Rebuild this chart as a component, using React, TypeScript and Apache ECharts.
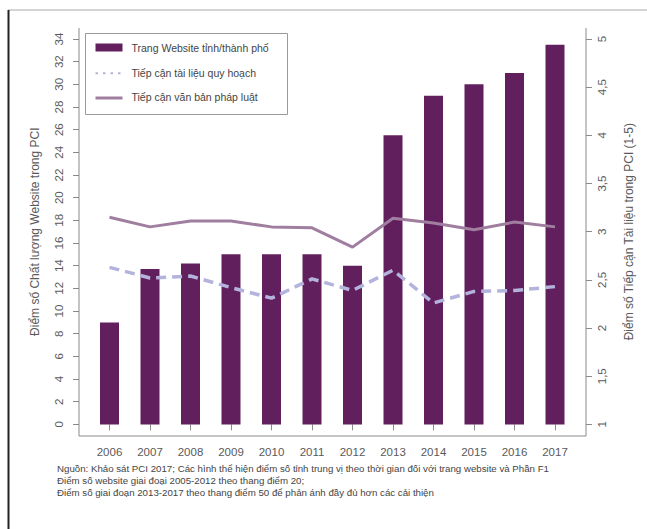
import React, { useEffect, useRef } from "react";
import * as echarts from "echarts";

const years = ["2006", "2007", "2008", "2009", "2010", "2011", "2012", "2013", "2014", "2015", "2016", "2017"];
const websiteScores = [9, 13.7, 14.2, 15, 15, 15, 14, 25.5, 29, 30, 31, 33.5];
const planningAccess = [2.63, 2.52, 2.54, 2.42, 2.31, 2.51, 2.39, 2.6, 2.26, 2.38, 2.39, 2.43];
const legalAccess = [3.15, 3.05, 3.11, 3.11, 3.05, 3.04, 2.84, 3.14, 3.09, 3.02, 3.1, 3.05];

const seriesNames = ["Trang Website tỉnh/thành phố", "Tiếp cận tài liệu quy hoạch", "Tiếp cận văn bản pháp luật"];
const leftAxisName = "Điểm số Chất lượng Website trong PCI";
const rightAxisName = "Điểm số Tiếp cận Tài liệu trong PCI (1-5)";
const footnotes = [
  "Nguồn: Khảo sát PCI 2017; Các hình thể hiện điểm số tỉnh trung vị theo thời gian đối với trang website và Phần F1",
  "Điểm số website giai đoại 2005-2012 theo thang điểm 20;",
  "Điểm số giai đoạn 2013-2017 theo thang điểm 50 để phản ánh đầy đủ hơn các cải thiện",
];

const FONT = "'Liberation Sans', Arial, Helvetica, sans-serif";
const BAR = "#621f5e";
const DASH = "#b3b3dd";
const SOLID = "#9f7e9f";
const AXIS = "#8a8a8a";
const LABEL = "#5a5a5a";

export default function App() {
  const ref = useRef<HTMLDivElement>(null);
  useEffect(() => {
    if (!ref.current) return;
    const chart = echarts.init(ref.current, null, { renderer: "svg" });
    const option: any = {
      animation: false,
      backgroundColor: "#ffffff",
      textStyle: { fontFamily: FONT },
      grid: { left: 89.25, right: 71.75, top: 39, bottom: 104.6, containLabel: false },
      xAxis: {
        type: "category",
        data: years,
        offset: 11.6,
        axisLine: { show: false },
        axisTick: { show: true, alignWithLabel: true, length: 6, lineStyle: { color: AXIS } },
        axisLabel: { color: LABEL, fontSize: 11.5, margin: 10, fontFamily: FONT },
        splitLine: { show: false },
      },
      yAxis: [
        {
          type: "value",
          position: "left",
          min: 0,
          max: 34,
          interval: 2,
          offset: 10.25,
          name: leftAxisName,
          nameLocation: "middle",
          nameGap: 38,
          nameRotate: 90,
          nameTextStyle: { color: LABEL, fontSize: 12, fontFamily: FONT },
          axisLine: { show: false },
          axisTick: { show: true, length: 6, lineStyle: { color: AXIS } },
          axisLabel: { color: LABEL, fontSize: 11.5, rotate: 90, margin: 14, fontFamily: FONT },
          splitLine: { show: false },
        },
        {
          type: "value",
          position: "right",
          min: 1,
          max: 5,
          interval: 0.5,
          offset: 10.75,
          name: rightAxisName,
          nameLocation: "middle",
          nameGap: 37,
          nameRotate: 90,
          nameTextStyle: { color: LABEL, fontSize: 12, fontFamily: FONT },
          axisLine: { show: false },
          axisTick: { show: true, length: 6, lineStyle: { color: AXIS } },
          axisLabel: {
            color: LABEL,
            fontSize: 11.5,
            rotate: 90,
            margin: 10,
            fontFamily: FONT,
            formatter: (v: number) => String(v).replace(".", ","),
          },
          splitLine: { show: false },
        },
      ],
      series: [
        {
          name: seriesNames[0],
          type: "bar",
          yAxisIndex: 0,
          data: websiteScores,
          barWidth: 19,
          itemStyle: { color: BAR },
        },
        {
          name: seriesNames[1],
          type: "line",
          yAxisIndex: 1,
          data: planningAccess,
          symbol: "none",
          lineStyle: { color: DASH, width: 3.5, type: [10, 6] },
        },
        {
          name: seriesNames[2],
          type: "line",
          yAxisIndex: 1,
          data: legalAccess,
          symbol: "none",
          lineStyle: { color: SOLID, width: 3 },
        },
      ],
      graphic: [
        { type: "line", shape: { x1: 8, y1: 10, x2: 647, y2: 10 }, style: { stroke: "#a8a8a8", lineWidth: 1 } },
        { type: "line", shape: { x1: 8.5, y1: 10, x2: 8.5, y2: 529 }, style: { stroke: "#222222", lineWidth: 2 } },
        {
          type: "polyline",
          shape: { points: [[79, 28], [79, 436], [586, 436], [586, 28]] },
          style: { stroke: AXIS, lineWidth: 1, fill: "none" },
          z: 5,
        },
        {
          type: "group",
          left: 85,
          top: 33,
          z: 10,
          children: [
            { type: "rect", shape: { x: 0, y: 0, width: 202, height: 81 }, style: { fill: "#ffffff", stroke: "#9a9a9a", lineWidth: 1 } },
            { type: "rect", shape: { x: 10, y: 10, width: 27, height: 8 }, style: { fill: BAR } },
            { type: "line", shape: { x1: 10, y1: 39.7, x2: 37, y2: 39.7 }, style: { stroke: DASH, lineWidth: 2, lineDash: [2.5, 5] } },
            { type: "line", shape: { x1: 10, y1: 64.5, x2: 37, y2: 64.5 }, style: { stroke: SOLID, lineWidth: 3 } },
            { type: "text", x: 46, y: 14.3, style: { text: seriesNames[0], fill: "#444444", fontSize: 10.5, fontFamily: FONT, verticalAlign: "middle" } },
            { type: "text", x: 46, y: 39.7, style: { text: seriesNames[1], fill: "#444444", fontSize: 10.5, fontFamily: FONT, verticalAlign: "middle" } },
            { type: "text", x: 46, y: 63.7, style: { text: seriesNames[2], fill: "#444444", fontSize: 10.5, fontFamily: FONT, verticalAlign: "middle" } },
          ],
        },
        ...footnotes.map((t, i) => ({
          type: "text",
          x: 57,
          y: 468 + i * 12,
          style: { text: t, fill: "#444444", fontSize: 9.7, fontFamily: FONT, verticalAlign: "middle" },
        })),
      ],
    };
    chart.setOption(option);
    return () => chart.dispose();
  }, []);
  return <div ref={ref} style={{ position: "absolute", left: 0, top: 0, width: 647, height: 529 }} />;
}
